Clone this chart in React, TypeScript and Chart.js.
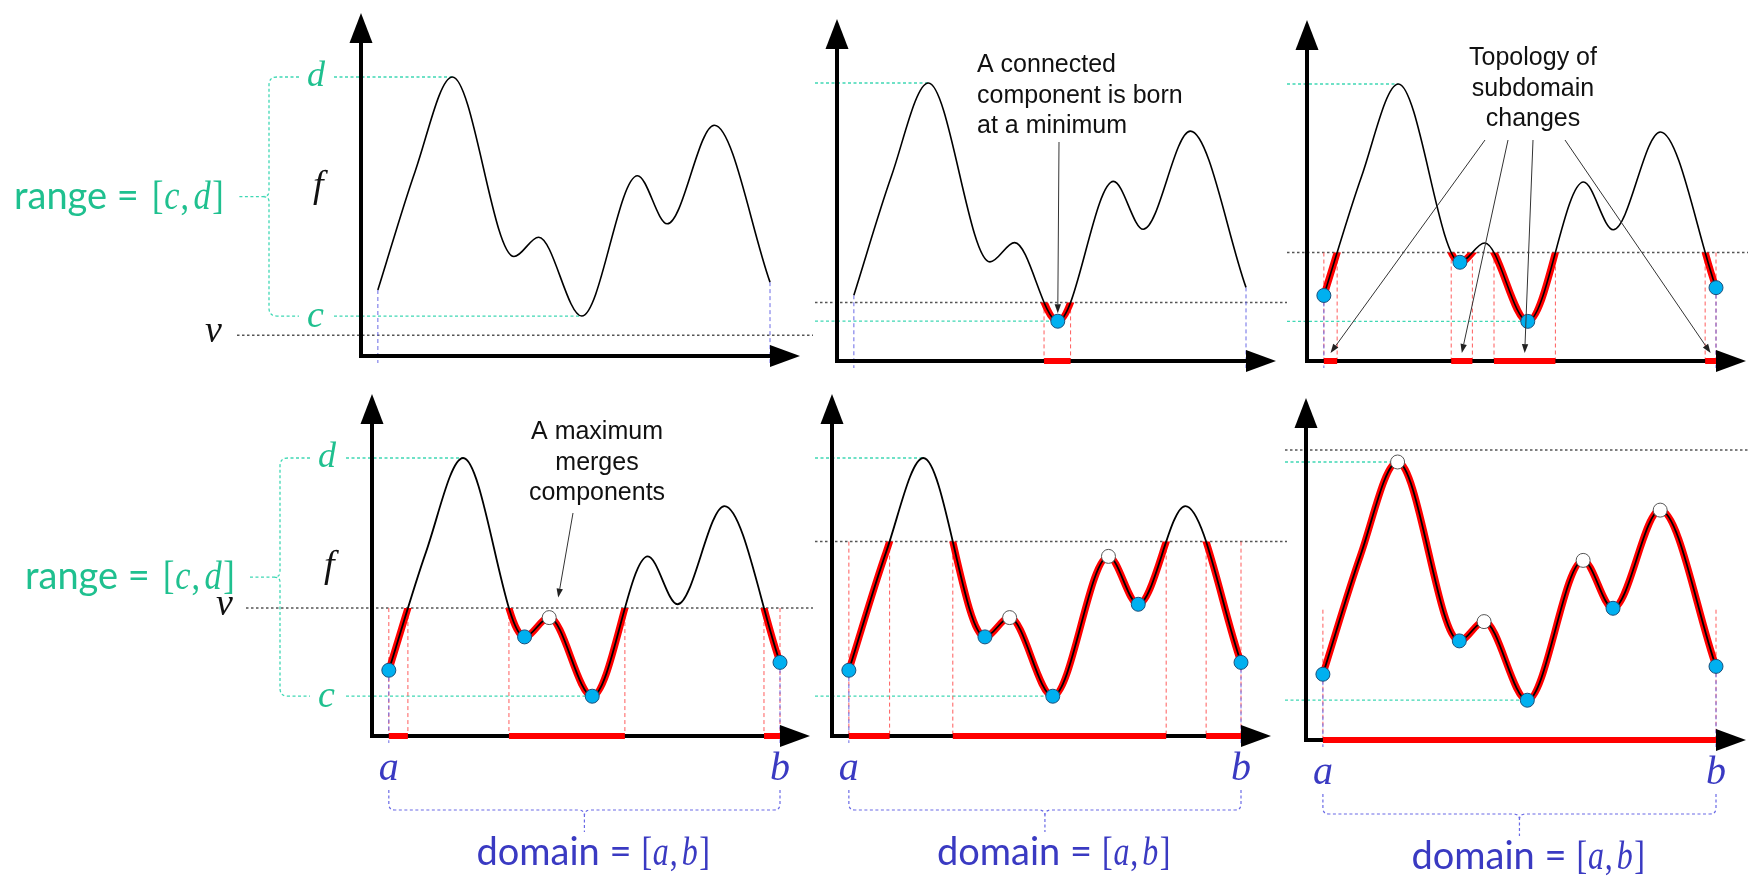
import { useEffect, useRef } from 'react';
import { Chart, registerables } from 'chart.js';

Chart.register(...registerables);

const W = 1748;
const H = 876;

// f given by its critical points (plus one point on the first rise);
// x in [0,100] spans [a,b], y in [0,100] spans [c,d]
const KNOT_X = [0, 9.5, 19, 34.7, 41, 52, 66.2, 73.8, 85.8, 100];
const KNOT_Y = [10.9, 60.5, 100, 24.9, 33, 0, 58.7, 38.6, 79.8, 14.2];
const KNOT_KIND = ['end', 'slope', 'max', 'min', 'max', 'min', 'max', 'min', 'max', 'end'];

// threshold v of each panel (row by row)
const LEVELS = [-8, 7.9, 29, 37, 64.9, 105];
// top of the red guide lines when it differs from v
const GUIDE_TOPS: (number | null)[] = [null, null, null, null, null, 38];

// shared data window; the two axes cross at (X_MIN, Y_MIN)
const X_MIN = -4.3;
const X_MAX = 100;
const Y_MIN = -16.7;
const Y_MAX = 100;

const GREEN = '#1fc08f';
const GREEN_LINE = '#3fd8b4';
const BLUE_TEXT = '#3a3ac2';
const BLUE_LINE = '#6a6ae6';
const RED = '#ff0000';
const RED_GUIDE = '#ff5c5c';
const GRAY_LINE = '#555555';

const SANS = '"Liberation Sans", Arial, sans-serif';
const LABEL_SANS = 'Lato, "Liberation Sans", sans-serif';
const MATH = '"Liberation Serif", "DejaVu Serif", serif';

type PanelLayout = {
  ox: number; // pixel where the axes cross
  oy: number;
  bx: number; // pixel of x = b
  dy: number; // pixel of y = d
  vFrom: number;
  vTo: number;
  greenFrom: number;
  range: boolean;
  domain: boolean;
};

const PANELS: PanelLayout[] = [
  { ox: 361, oy: 356, bx: 770, dy: 77, vFrom: 237, vTo: 813, greenFrom: 334, range: true, domain: false },
  { ox: 837, oy: 361, bx: 1246, dy: 83, vFrom: 815, vTo: 1287, greenFrom: 815, range: false, domain: false },
  { ox: 1307, oy: 361, bx: 1716, dy: 84, vFrom: 1287, vTo: 1748, greenFrom: 1287, range: false, domain: false },
  { ox: 372, oy: 736, bx: 780, dy: 458, vFrom: 246, vTo: 813, greenFrom: 346, range: true, domain: true },
  { ox: 832, oy: 736, bx: 1241, dy: 458, vFrom: 815, vTo: 1287, greenFrom: 815, range: false, domain: true },
  { ox: 1306, oy: 740, bx: 1716, dy: 462, vFrom: 1285, vTo: 1748, greenFrom: 1285, range: false, domain: true },
];

const NOTE_CONNECTED = ['A connected', 'component is born', 'at a minimum'];
const NOTE_TOPOLOGY = ['Topology of', 'subdomain', 'changes'];
const NOTE_MERGE = ['A maximum', 'merges', 'components'];

// ---- monotone cubic through the knots (same construction Chart.js uses) ----
function monotoneSlopes(xs: number[], ys: number[]): number[] {
  const n = xs.length;
  const delta: number[] = [];
  const m: number[] = [];
  for (let i = 0; i < n - 1; i++) delta[i] = (ys[i + 1] - ys[i]) / (xs[i + 1] - xs[i]);
  for (let i = 0; i < n; i++) {
    if (i === 0) m[i] = delta[0];
    else if (i === n - 1) m[i] = delta[n - 2];
    else if (Math.sign(delta[i - 1]) !== Math.sign(delta[i])) m[i] = 0;
    else m[i] = (delta[i - 1] + delta[i]) / 2;
  }
  for (let i = 0; i < n - 1; i++) {
    if (Math.abs(delta[i]) < 1e-9) {
      m[i] = 0;
      m[i + 1] = 0;
      continue;
    }
    const a = m[i] / delta[i];
    const b = m[i + 1] / delta[i];
    const s = a * a + b * b;
    if (s <= 9) continue;
    const t = 3 / Math.sqrt(s);
    m[i] = a * t * delta[i];
    m[i + 1] = b * t * delta[i];
  }
  return m;
}

const SLOPES = monotoneSlopes(KNOT_X, KNOT_Y);

function f(x: number): number {
  let i = 0;
  while (i < KNOT_X.length - 2 && x > KNOT_X[i + 1]) i++;
  const h = KNOT_X[i + 1] - KNOT_X[i];
  const t = (x - KNOT_X[i]) / h;
  const t2 = t * t;
  const t3 = t2 * t;
  return (
    (2 * t3 - 3 * t2 + 1) * KNOT_Y[i] +
    (t3 - 2 * t2 + t) * h * SLOPES[i] +
    (-2 * t3 + 3 * t2) * KNOT_Y[i + 1] +
    (t3 - t2) * h * SLOPES[i + 1]
  );
}

// parts of [a,b] where f <= v
function sublevelIntervals(v: number): [number, number][] {
  const out: [number, number][] = [];
  const N = 4000;
  const x0 = KNOT_X[0];
  const x1 = KNOT_X[KNOT_X.length - 1];
  let prevX = x0;
  let prevBelow = f(prevX) <= v;
  let start: number | null = prevBelow ? prevX : null;
  for (let i = 1; i <= N; i++) {
    const x = x0 + ((x1 - x0) * i) / N;
    const below = f(x) <= v;
    if (below !== prevBelow) {
      let lo = prevX;
      let hi = x;
      for (let k = 0; k < 40; k++) {
        const mid = (lo + hi) / 2;
        if ((f(mid) <= v) === prevBelow) lo = mid;
        else hi = mid;
      }
      const root = (lo + hi) / 2;
      if (below) start = root;
      else if (start !== null) {
        out.push([start, root]);
        start = null;
      }
    }
    prevX = x;
    prevBelow = below;
  }
  if (start !== null) out.push([start, x1]);
  return out;
}

// ---- drawing helpers ----
function dashed(ctx: CanvasRenderingContext2D, x1: number, y1: number, x2: number, y2: number, color: string, width: number, dash: number[]) {
  ctx.save();
  ctx.strokeStyle = color;
  ctx.lineWidth = width;
  ctx.setLineDash(dash);
  ctx.beginPath();
  ctx.moveTo(x1, y1);
  ctx.lineTo(x2, y2);
  ctx.stroke();
  ctx.restore();
}

function arrow(ctx: CanvasRenderingContext2D, x1: number, y1: number, x2: number, y2: number) {
  const ang = Math.atan2(y2 - y1, x2 - x1);
  const L = 9;
  const hw = 3.2;
  const bx = x2 - L * Math.cos(ang);
  const by = y2 - L * Math.sin(ang);
  ctx.save();
  ctx.strokeStyle = '#333';
  ctx.fillStyle = '#222';
  ctx.lineWidth = 1;
  ctx.beginPath();
  ctx.moveTo(x1, y1);
  ctx.lineTo(bx, by);
  ctx.stroke();
  ctx.beginPath();
  ctx.moveTo(x2, y2);
  ctx.lineTo(bx + hw * Math.sin(ang), by - hw * Math.cos(ang));
  ctx.lineTo(bx - hw * Math.sin(ang), by + hw * Math.cos(ang));
  ctx.closePath();
  ctx.fill();
  ctx.restore();
}

function text(ctx: CanvasRenderingContext2D, s: string, x: number, y: number, font: string, color: string, align: CanvasTextAlign = 'left'): number {
  ctx.save();
  ctx.font = font;
  ctx.fillStyle = color;
  ctx.textAlign = align;
  ctx.textBaseline = 'alphabetic';
  ctx.fillText(s, x, y);
  const w = ctx.measureText(s).width;
  ctx.restore();
  return w;
}

// "[p, q]" with italic letters and upright brackets, set a little narrow
function mathPair(ctx: CanvasRenderingContext2D, p: string, q: string, x: number, y: number, color: string, size: number, squeeze: number) {
  const parts: [string, boolean, number][] = [
    ['[', false, 1],
    [p, true, 1],
    [',', false, 5],
    [q, true, 2],
    [']', false, 0],
  ];
  ctx.save();
  ctx.translate(x, y);
  ctx.scale(squeeze, 1);
  let cx = 0;
  for (const [s, it, gap] of parts) {
    cx += text(ctx, s, cx, 0, `${it ? 'italic ' : ''}${size}px ${MATH}`, color) + gap;
  }
  ctx.restore();
}

function notes(ctx: CanvasRenderingContext2D, lines: string[], x: number, y: number, align: CanvasTextAlign) {
  lines.forEach((s, i) => text(ctx, s, x, y + i * 30.5, `25px ${SANS}`, '#111', align));
}

function makeDecor(idx: number) {
  const p = PANELS[idx];
  const v = LEVELS[idx];
  const intervals = sublevelIntervals(v);
  const iMax = KNOT_Y.indexOf(Math.max(...KNOT_Y));
  const iMin = KNOT_Y.indexOf(Math.min(...KNOT_Y));
  const last = KNOT_X.length - 1;
  const whiteIdx = KNOT_KIND.map((k, i) => (k === 'max' && KNOT_Y[i] <= v ? i : -1)).filter((i) => i >= 0);
  return {
    id: 'decor' + idx,
    beforeDatasetsDraw(chart: Chart) {
      const ctx = chart.ctx;
      const X = (x: number) => chart.scales.x.getPixelForValue(x);
      const Y = (y: number) => chart.scales.y.getPixelForValue(y);
      const vPx = Y(v);
      const cPx = Y(KNOT_Y[iMin]);
      const dPx = Y(KNOT_Y[iMax]);

      // levels c and d
      dashed(ctx, p.greenFrom, dPx, X(KNOT_X[iMax]), dPx, GREEN_LINE, 1.3, [3, 2.5]);
      dashed(ctx, p.greenFrom, cPx, X(KNOT_X[iMin]), cPx, GREEN_LINE, 1.3, [3, 2.5]);
      // level v
      dashed(ctx, p.vFrom, vPx, p.vTo, vPx, GRAY_LINE, 1.5, [2.5, 2.5]);

      // guides from the sublevel set down to the axis
      const gTop = GUIDE_TOPS[idx] !== null ? Y(GUIDE_TOPS[idx] as number) : vPx;
      for (const [s, e] of intervals) {
        dashed(ctx, X(s), gTop, X(s), p.oy, RED_GUIDE, 1, [4, 3]);
        dashed(ctx, X(e), gTop, X(e), p.oy, RED_GUIDE, 1, [4, 3]);
      }
      dashed(ctx, X(KNOT_X[0]), Y(KNOT_Y[0]), X(KNOT_X[0]), p.oy + 7, BLUE_LINE, 1, [4, 3]);
      dashed(ctx, X(KNOT_X[last]), Y(KNOT_Y[last]), X(KNOT_X[last]), p.oy + 7, BLUE_LINE, 1, [4, 3]);

      if (p.range) {
        const mid = (cPx + dPx) / 2;
        const sx = p.ox - 92;
        const r = 8;
        ctx.save();
        ctx.strokeStyle = GREEN_LINE;
        ctx.lineWidth = 1.3;
        ctx.setLineDash([3, 2.5]);
        ctx.beginPath();
        ctx.moveTo(p.ox - 62, dPx);
        ctx.lineTo(sx + r, dPx);
        ctx.quadraticCurveTo(sx, dPx, sx, dPx + r);
        ctx.lineTo(sx, mid - 5);
        ctx.quadraticCurveTo(sx, mid, sx - 6, mid);
        ctx.lineTo(sx - 30, mid);
        ctx.moveTo(sx - 6, mid);
        ctx.quadraticCurveTo(sx, mid, sx, mid + 5);
        ctx.lineTo(sx, cPx - r);
        ctx.quadraticCurveTo(sx, cPx, sx + r, cPx);
        ctx.lineTo(p.ox - 62, cPx);
        ctx.stroke();
        ctx.restore();

        text(ctx, 'd', p.ox - 54, dPx + 9, `italic 36px ${MATH}`, GREEN);
        text(ctx, 'c', p.ox - 54, cPx + 11, `italic 38px ${MATH}`, GREEN);
        text(ctx, 'f', p.ox - 48, mid, `italic 38px ${MATH}`, '#111');
        text(ctx, 'v', p.ox - 156, vPx + 7, `italic 38px ${MATH}`, '#111');
        const tx = p.ox - 347;
        text(ctx, 'range = ', tx, mid + 12, `38px ${LABEL_SANS}`, GREEN);
        mathPair(ctx, 'c', 'd', tx + 138, mid + 12, GREEN, 39, 0.88);
      }

      if (p.domain) {
        const ax = X(KNOT_X[0]);
        const bxp = X(KNOT_X[last]);
        const cx = (ax + bxp) / 2;
        text(ctx, 'a', ax, p.oy + 44, `italic 40px ${MATH}`, BLUE_TEXT, 'center');
        text(ctx, 'b', bxp, p.oy + 44, `italic 40px ${MATH}`, BLUE_TEXT, 'center');
        const y0 = p.oy + 54;
        const y1 = p.oy + 74;
        const r = 6;
        ctx.save();
        ctx.strokeStyle = BLUE_LINE;
        ctx.lineWidth = 1.2;
        ctx.setLineDash([3, 2.5]);
        ctx.beginPath();
        ctx.moveTo(ax, y0);
        ctx.lineTo(ax, y1 - r);
        ctx.quadraticCurveTo(ax, y1, ax + r, y1);
        ctx.lineTo(cx - r, y1);
        ctx.quadraticCurveTo(cx, y1, cx, y1 + r);
        ctx.lineTo(cx, y1 + 22);
        ctx.moveTo(bxp, y0);
        ctx.lineTo(bxp, y1 - r);
        ctx.quadraticCurveTo(bxp, y1, bxp - r, y1);
        ctx.lineTo(cx + r, y1);
        ctx.quadraticCurveTo(cx, y1, cx, y1 + r);
        ctx.stroke();
        ctx.restore();
        const tx = cx - 108;
        text(ctx, 'domain = ', tx, p.oy + 129, `38px ${LABEL_SANS}`, BLUE_TEXT);
        mathPair(ctx, 'a', 'b', tx + 165, p.oy + 129, BLUE_TEXT, 40, 0.8);
      }

      if (idx === 1) notes(ctx, NOTE_CONNECTED, p.ox + 140, 72, 'left');
      if (idx === 2) notes(ctx, NOTE_TOPOLOGY, p.ox + 226, 65, 'center');
      if (idx === 3) notes(ctx, NOTE_MERGE, p.ox + 225, 439, 'center');
    },
    beforeDatasetDraw(chart: Chart, args: { index: number }) {
      if (args.index !== 1) return;
      // the red copy of f only shows where f <= v
      const vPx = chart.scales.y.getPixelForValue(v);
      const ctx = chart.ctx;
      ctx.save();
      ctx.beginPath();
      ctx.rect(0, vPx, W, H - vPx);
      ctx.clip();
    },
    afterDatasetDraw(chart: Chart, args: { index: number }) {
      if (args.index !== 1) return;
      chart.ctx.restore();
    },
    afterDatasetsDraw(chart: Chart) {
      const ctx = chart.ctx;
      const X = (x: number) => chart.scales.x.getPixelForValue(x);
      const Y = (y: number) => chart.scales.y.getPixelForValue(y);
      const yTip = p.dy - 64;
      const xTip = p.bx + 30;

      // axes with arrow heads
      ctx.save();
      ctx.strokeStyle = '#000';
      ctx.fillStyle = '#000';
      ctx.lineWidth = 4;
      ctx.lineJoin = 'miter';
      ctx.beginPath();
      ctx.moveTo(p.ox, yTip + 28);
      ctx.lineTo(p.ox, p.oy);
      ctx.lineTo(xTip - 28, p.oy);
      ctx.stroke();
      ctx.beginPath();
      ctx.moveTo(p.ox, yTip);
      ctx.lineTo(p.ox - 11.5, yTip + 30);
      ctx.lineTo(p.ox + 11.5, yTip + 30);
      ctx.closePath();
      ctx.fill();
      ctx.beginPath();
      ctx.moveTo(xTip, p.oy);
      ctx.lineTo(xTip - 30, p.oy - 11);
      ctx.lineTo(xTip - 30, p.oy + 11);
      ctx.closePath();
      ctx.fill();
      ctx.restore();

      // sublevel set on the domain axis
      ctx.save();
      ctx.strokeStyle = RED;
      ctx.lineWidth = 6;
      for (const [s, e] of intervals) {
        ctx.beginPath();
        ctx.moveTo(X(s), p.oy);
        ctx.lineTo(X(e), p.oy);
        ctx.stroke();
      }
      ctx.restore();

      if (idx === 1) {
        arrow(ctx, p.ox + 222, 142, X(KNOT_X[iMin]), Y(KNOT_Y[iMin]) - 8);
      }
      if (idx === 2) {
        const starts = [-48, -25, 0, 32];
        intervals.forEach(([s, e], k) => {
          if (k >= starts.length) return;
          arrow(ctx, p.ox + 226 + starts[k], 140, X((s + e) / 2), p.oy - 8);
        });
      }
      if (idx === 3 && whiteIdx.length) {
        const w = whiteIdx[0];
        arrow(ctx, p.ox + 201, 513, X(KNOT_X[w]) + 9, Y(KNOT_Y[w]) - 20);
      }
    },
  };
}

function buildConfig(idx: number) {
  const p = PANELS[idx];
  const v = LEVELS[idx];
  const curve = KNOT_X.map((x, i) => ({ x, y: KNOT_Y[i] }));
  const blue = curve.filter((_, i) => (KNOT_KIND[i] === 'min' || KNOT_KIND[i] === 'end') && KNOT_Y[i] <= v);
  const white = curve.filter((_, i) => KNOT_KIND[i] === 'max' && KNOT_Y[i] <= v);
  return {
    type: 'line' as const,
    data: {
      datasets: [
        {
          data: curve,
          borderColor: '#000',
          borderWidth: idx >= 3 ? 1.8 : 1.6,
          pointRadius: 0,
          cubicInterpolationMode: 'monotone' as const,
          clip: false as const,
          order: 1,
        },
        {
          data: curve,
          borderColor: RED,
          borderWidth: 7,
          pointRadius: 0,
          cubicInterpolationMode: 'monotone' as const,
          clip: false as const,
          order: 2,
        },
        {
          data: blue,
          showLine: false,
          pointRadius: 7,
          pointBackgroundColor: '#00b0f0',
          pointBorderColor: '#1d4f7a',
          pointBorderWidth: 1,
          clip: false as const,
          order: 0,
        },
        {
          data: white,
          showLine: false,
          pointRadius: 7,
          pointBackgroundColor: '#ffffff',
          pointBorderColor: '#555555',
          pointBorderWidth: 1,
          clip: false as const,
          order: 0,
        },
      ],
    },
    options: {
      responsive: false,
      animation: false as const,
      events: [],
      layout: { padding: { left: p.ox, right: W - p.bx, top: p.dy, bottom: H - p.oy } },
      scales: {
        x: { type: 'linear' as const, min: X_MIN, max: X_MAX, display: false },
        y: { type: 'linear' as const, min: Y_MIN, max: Y_MAX, display: false },
      },
      plugins: { legend: { display: false }, tooltip: { enabled: false } },
    },
    plugins: [makeDecor(idx)],
  };
}

function PanelCanvas({ idx }: { idx: number }) {
  const ref = useRef<HTMLCanvasElement>(null);
  useEffect(() => {
    const chart = new Chart(ref.current as HTMLCanvasElement, buildConfig(idx) as any);
    return () => chart.destroy();
  }, [idx]);
  return (
    <canvas
      ref={ref}
      width={W}
      height={H}
      style={{ position: 'absolute', left: 0, top: 0, width: W, height: H }}
    />
  );
}

export default function App() {
  return (
    <div style={{ position: 'fixed', left: 0, top: 0, width: W, height: H, background: '#ffffff', overflow: 'hidden' }}>
      {PANELS.map((_, i) => (
        <PanelCanvas key={i} idx={i} />
      ))}
    </div>
  );
}
